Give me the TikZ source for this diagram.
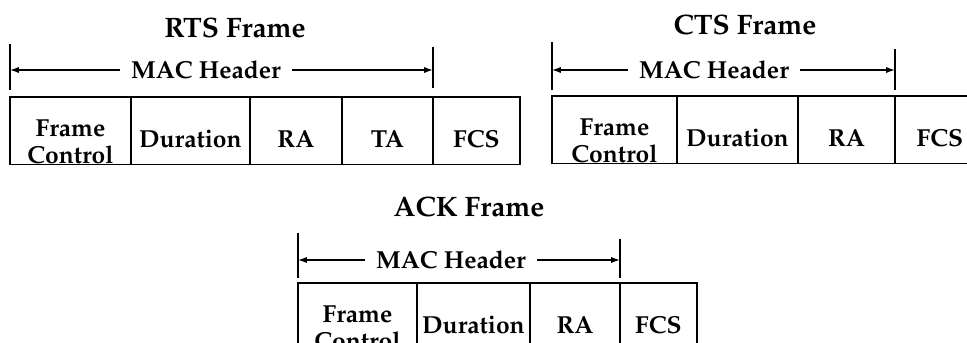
\documentclass[tikz,border=0pt]{standalone}
\usepackage[T1]{fontenc}
\usepackage{mathpazo}
\usetikzlibrary{arrows.meta,positioning}

\tikzset{
  field/.style={draw,line width=0.8pt,inner sep=0pt,outer sep=0pt,align=center,
    font=\fontsize{14}{15.5}\selectfont\bfseries,text height=28.5pt,text depth=10pt},
  twoline/.style={text height=37.8pt,text depth=0.7pt},
  caption/.style={font=\fontsize{16}{18}\selectfont\bfseries},
  hdr/.style={font=\fontsize{14}{16}\selectfont\bfseries,inner xsep=6pt},
  hdrarrow/.style={line width=0.7pt,-{Latex[length=5pt,width=3.5pt]}},
  tick/.style={line width=0.8pt}
}

\begin{document}
\begin{tikzpicture}[x=0.02cm,y=-0.02cm]
  \useasboundingbox (0,0) rectangle (967,342);
  \clip (0,0) rectangle (967,342);

  % RTS frame
  \node[caption] (rtstitle) at (235,28) {RTS Frame};
  \node[field,twoline,minimum width=2.42cm,anchor=north west] (rts1) at (10,97) {Frame\\Control};
  \node[field,minimum width=2.38cm,right=0pt of rts1] (rts2) {Duration};
  \node[field,minimum width=1.84cm,right=0pt of rts2] (rts3) {RA};
  \node[field,minimum width=1.82cm,right=0pt of rts3] (rts4) {TA};
  \node[field,minimum width=1.74cm,right=0pt of rts4] (rts5) {FCS};
  \node[hdr] (rtshdr) at (206,70) {MAC Header};
  \coordinate (rtsL) at (rts1.west |- rtshdr.west);
  \coordinate (rtsR) at (rts4.east |- rtshdr.east);
  \draw[tick] (rtsL) ++(0,-26) -- ++(0,46);
  \draw[tick] (rtsR) ++(0,-23) -- ++(0,41);
  \draw[hdrarrow] (rtshdr.west) -- (rtsL);
  \draw[hdrarrow] (rtshdr.east) -- (rtsR);

  % CTS frame
  \node[caption] (ctstitle) at (745,25) {CTS Frame};
  \node[field,twoline,minimum width=2.5cm,anchor=north west] (cts1) at (552,96) {Frame\\Control};
  \node[field,minimum width=2.42cm,right=0pt of cts1] (cts2) {Duration};
  \node[field,minimum width=1.94cm,right=0pt of cts2] (cts3) {RA};
  \node[field,minimum width=1.8cm,right=0pt of cts3] (cts4) {FCS};
  \node[hdr] (ctshdr) at (714,70) {MAC Header};
  \coordinate (ctsL) at (cts1.west |- ctshdr.west);
  \coordinate (ctsR) at (cts3.east |- ctshdr.east);
  \draw[tick] (ctsL) ++(0,-28) -- ++(0,48);
  \draw[tick] (ctsR) ++(0,-21) -- ++(0,41);
  \draw[hdrarrow] (ctshdr.west) -- (ctsL);
  \draw[hdrarrow] (ctshdr.east) -- (ctsR);

  % ACK frame
  \node[caption] (acktitle) at (469,207) {ACK Frame};
  \node[field,twoline,minimum width=2.38cm,anchor=north west] (ack1) at (298,283) {Frame\\Control};
  \node[field,minimum width=2.26cm,right=0pt of ack1] (ack2) {Duration};
  \node[field,minimum width=1.8cm,right=0pt of ack2] (ack3) {RA};
  \node[field,minimum width=1.54cm,right=0pt of ack3] (ack4) {FCS};
  \node[hdr] (ackhdr) at (451,260) {MAC Header};
  \coordinate (ackL) at (ack1.west |- ackhdr.west);
  \coordinate (ackR) at (ack3.east |- ackhdr.east);
  \draw[tick] (ackL) ++(0,-27) -- ++(0,45);
  \draw[tick] (ackR) ++(0,-21) -- ++(0,39);
  \draw[hdrarrow] (ackhdr.west) -- (ackL);
  \draw[hdrarrow] (ackhdr.east) -- (ackR);
\end{tikzpicture}
\end{document}
